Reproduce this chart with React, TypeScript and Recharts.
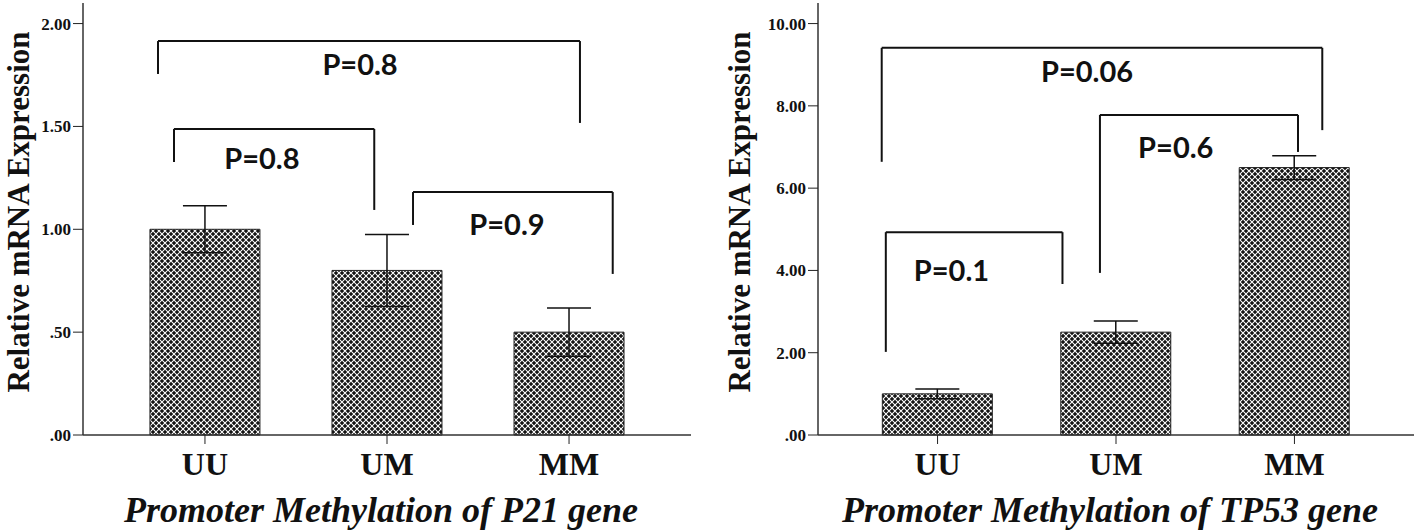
import {
  Bar,
  BarChart,
  ErrorBar,
  Label,
  ReferenceDot,
  ReferenceLine,
  XAxis,
  YAxis,
} from "recharts"

const categories = ["UU", "UM", "MM"]
const categoryPositions = [1, 2, 3]

const p21Means = [1.0, 0.8, 0.5]
const p21Errors = [0.114, 0.175, 0.117]
const p21Ticks = [0, 0.5, 1, 1.5, 2]

const tp53Means = [1.0, 2.5, 6.5]
const tp53Errors = [0.12, 0.27, 0.29]
const tp53Ticks = [0, 2, 4, 6, 8, 10]

// significance brackets, x in group units (1 = UU), y in expression units
const p21Brackets = [
  { x1: 0.742, x2: 3.06, top: 1.915, leftEnd: 1.755, rightEnd: 1.517 },
  { x1: 0.83, x2: 1.93, top: 1.488, leftEnd: 1.327, rightEnd: 1.094 },
  { x1: 2.143, x2: 3.24, top: 1.181, leftEnd: 1.021, rightEnd: 0.783 },
]
const p21Pvalues = [
  { x: 1.852, y: 1.75, text: "P=0.8" },
  { x: 1.313, y: 1.293, text: "P=0.8" },
  { x: 2.659, y: 0.972, text: "P=0.9" },
]

const tp53Brackets = [
  { x1: 0.687, x2: 3.156, top: 9.41, leftEnd: 6.64, rightEnd: 7.41 },
  { x1: 1.91, x2: 3.02, top: 7.78, leftEnd: 3.94, rightEnd: 6.88 },
  { x1: 0.71, x2: 1.7, top: 4.93, leftEnd: 2.02, rightEnd: 3.67 },
]
const tp53Pvalues = [
  { x: 1.838, y: 8.58, text: "P=0.06" },
  { x: 2.335, y: 6.73, text: "P=0.6" },
  { x: 1.078, y: 3.74, text: "P=0.1" },
]

const serif = "'Liberation Serif', 'Times New Roman', serif"
const sans = "Lato, 'Open Sans', 'Liberation Sans', sans-serif"
const xDomain: [number, number] = [0.33, 3.67]

type Bracket = { x1: number; x2: number; top: number; leftEnd: number; rightEnd: number }
type PLabel = { x: number; y: number; text: string }

type PanelProps = {
  id: string
  width: number
  axisWidth: number
  marginRight: number
  means: number[]
  errors: number[]
  ticks: number[]
  yMax: number
  brackets: Bracket[]
  pvalues: PLabel[]
  title: string
  yLabelX: number
}

function fmt(v: number) {
  return v.toFixed(2).replace(/^0/, "")
}

function Panel({
  id,
  width,
  axisWidth,
  marginRight,
  means,
  errors,
  ticks,
  yMax,
  brackets,
  pvalues,
  title,
  yLabelX,
}: PanelProps) {
  const data = categories.map((name, i) => ({
    pos: categoryPositions[i],
    name,
    mean: means[i],
    err: errors[i],
  }))

  return (
    <BarChart
      width={width}
      height={532}
      data={data}
      margin={{ top: 3, right: marginRight, bottom: 0, left: 0 }}
    >
      <defs>
        <pattern id={id} width={6} height={6} patternUnits="userSpaceOnUse">
          <rect width={6} height={6} fill="#141414" />
          <path d="M0,0 L6,6 M6,0 L0,6" stroke="#ffffff" strokeWidth={1.05} />
        </pattern>
      </defs>
      <XAxis
        dataKey="pos"
        type="number"
        domain={xDomain}
        ticks={categoryPositions}
        tickFormatter={(v) => categories[v - 1]}
        height={97}
        tickSize={9}
        tickMargin={8}
        stroke="#222"
        tick={{ fill: "#111", fontSize: 32, fontWeight: "bold", fontFamily: serif }}
        axisLine={{ stroke: "#333", strokeWidth: 1.5 }}
      >
        <Label
          content={({ viewBox }: any) => (
            <text
              x={viewBox.x + viewBox.width / 2 - 6}
              y={viewBox.y + 87}
              textAnchor="middle"
              fontFamily={serif}
              fontSize={36}
              fontWeight="bold"
              fontStyle="italic"
              fill="#111"
            >
              {title}
            </text>
          )}
        />
      </XAxis>
      <XAxis
        xAxisId="top"
        orientation="top"
        type="number"
        domain={xDomain}
        height={0}
        tick={false}
        tickLine={false}
        axisLine={{ stroke: "#555", strokeWidth: 1.5 }}
      />
      <YAxis
        domain={[0, yMax]}
        ticks={ticks}
        tickFormatter={fmt}
        width={axisWidth}
        tickSize={10}
        tickMargin={2}
        stroke="#222"
        tick={{ fill: "#111", fontSize: 17, fontWeight: "bold", fontFamily: serif }}
        axisLine={{ stroke: "#333", strokeWidth: 1.5 }}
      >
        <Label
          content={() => (
            <text
              transform={`translate(${yLabelX}, 212) rotate(-90)`}
              textAnchor="middle"
              fontFamily={serif}
              fontSize={31}
              fontWeight="bold"
              fill="#111"
            >
              Relative mRNA Expression
            </text>
          )}
        />
      </YAxis>
      <YAxis
        yAxisId="right"
        orientation="right"
        domain={[0, yMax]}
        width={0}
        tick={false}
        tickLine={false}
        axisLine={{ stroke: "#555", strokeWidth: 1.5 }}
      />
      <Bar
        dataKey="mean"
        barSize={110}
        fill={`url(#${id})`}
        stroke="#222"
        strokeWidth={1}
        isAnimationActive={false}
      >
        <ErrorBar dataKey="err" width={22} stroke="#111" strokeWidth={1.5} isAnimationActive={false} />
      </Bar>
      {brackets.flatMap((b, i) => [
        <ReferenceLine
          key={`t${i}`}
          segment={[{ x: b.x1, y: b.top }, { x: b.x2, y: b.top }]}
          stroke="#111"
          strokeWidth={2}
        />,
        <ReferenceLine
          key={`l${i}`}
          segment={[{ x: b.x1, y: b.top }, { x: b.x1, y: b.leftEnd }]}
          stroke="#111"
          strokeWidth={2}
        />,
        <ReferenceLine
          key={`r${i}`}
          segment={[{ x: b.x2, y: b.top }, { x: b.x2, y: b.rightEnd }]}
          stroke="#111"
          strokeWidth={2}
        />,
      ])}
      {pvalues.map((p, i) => (
        <ReferenceDot
          key={`p${i}`}
          x={p.x}
          y={p.y}
          r={0}
          shape={(props: any) => (
            <text
              x={props.cx}
              y={props.cy}
              textAnchor="middle"
              fontFamily={sans}
              fontSize={29}
              fontWeight="bold"
              fill="#111"
            >
              {p.text}
            </text>
          )}
        />
      ))}
    </BarChart>
  )
}

export default function App() {
  return (
    <div
      style={{
        position: "absolute",
        left: 0,
        top: 0,
        width: 1418,
        height: 532,
        display: "flex",
        background: "#fff",
      }}
    >
      <Panel
        id="hatchP21"
        width={700}
        axisWidth={83}
        marginRight={9}
        means={p21Means}
        errors={p21Errors}
        ticks={p21Ticks}
        yMax={2.1}
        brackets={p21Brackets}
        pvalues={p21Pvalues}
        title="Promoter Methylation of P21 gene"
        yLabelX={29}
      />
      <Panel
        id="hatchTP53"
        width={718}
        axisWidth={118}
        marginRight={4}
        means={tp53Means}
        errors={tp53Errors}
        ticks={tp53Ticks}
        yMax={10.5}
        brackets={tp53Brackets}
        pvalues={tp53Pvalues}
        title="Promoter Methylation of TP53 gene"
        yLabelX={50}
      />
    </div>
  )
}
